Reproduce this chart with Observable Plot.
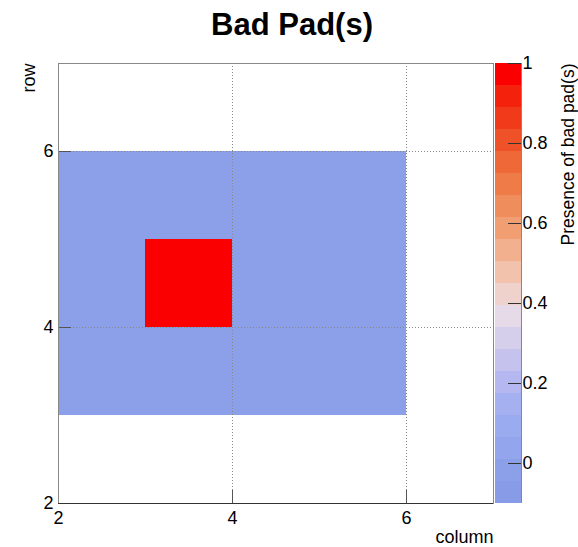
<!DOCTYPE html>
<html>
<head>
<meta charset="utf-8">
<script src="https://cdn.jsdelivr.net/npm/d3@7"></script>
<script src="https://cdn.jsdelivr.net/npm/@observablehq/plot@0.6"></script>
<style>
  html, body { margin: 0; padding: 0; background: #fff; }
  #chart { position: relative; width: 578px; height: 547px; font-family: "Liberation Sans", Arial, Helvetica, sans-serif; }
  #title { height: 50px; line-height: 50px; text-align: center; font-size: 31px; font-weight: bold; color: #000; padding-left: 6px; }
  #main { position: absolute; left: 0; top: 50px; }
  #bar { position: absolute; left: 495px; top: 50px; }
</style>
</head>
<body>
<div id="chart">
  <div id="title">Bad Pad(s)</div>
  <div id="main"></div>
  <div id="bar"></div>
</div>
<script>
// Pad map: lower-left corner (column, row) of each pad and its flag value
const padColumn = [2, 3, 4, 5, 2, 3, 4, 5, 2, 3, 4, 5];
const padRow    = [3, 3, 3, 3, 4, 4, 4, 4, 5, 5, 5, 5];
const padValue  = [0, 0, 0, 0, 0, 1, 0, 0, 0, 0, 0, 0];

// Axes
const xTicks = [2, 4, 6];
const yTicks = [2, 4, 6];
const gridTicks = [4, 6];
const axisDomain = [2, 7];

// Colour palette (20 bands from zMin to zMax)
const zMin = -0.1;
const zMax = 1.0;
const zTicks = [0, 0.2, 0.4, 0.6, 0.8, 1];
const palette = [
  "#879be6", "#8ca0e9", "#93a5ed", "#9babef", "#a5b0f0",
  "#b5b8f0", "#c5c2ee", "#d6cfec", "#e6d9e8", "#efd2cc",
  "#f2c2ac", "#f3b08f", "#f29e73", "#f08d5d", "#ef7b49",
  "#ee6838", "#ef5128", "#f13a1a", "#f4220d", "#fa0000"
];

const nBands = palette.length;
const step = (zMax - zMin) / nBands;
const thresholds = d3.range(1, nBands).map(i => zMin + i * step);
const bands = d3.range(nBands).map(i => ({lo: zMin + i * step, hi: zMin + (i + 1) * step}));
const colorScale = {type: "threshold", domain: thresholds, range: palette};

const pads = padValue.map((v, i) => ({col: padColumn[i], row: padRow[i], value: v}));

const font = "Liberation Sans, Arial, Helvetica, sans-serif";
const fs = 18;
const W = 578, H = 497;
const mL = 58, mR = 85, mT = 13, mB = 44;
const innerW = W - mL - mR, innerH = H - mT - mB;

const main = Plot.plot({
  width: W, height: H,
  marginLeft: mL, marginRight: mR, marginTop: mT, marginBottom: mB,
  style: {fontFamily: font, fontSize: fs + "px", color: "#000", background: "transparent"},
  x: {domain: axisDomain},
  y: {domain: axisDomain},
  color: colorScale,
  marks: [
    Plot.rect(pads, {x1: "col", x2: d => d.col + 1, y1: "row", y2: d => d.row + 1, fill: "value"}),
    Plot.gridX(gridTicks, {stroke: "#888", strokeOpacity: 1, strokeDasharray: "1,2"}),
    Plot.gridY(gridTicks, {stroke: "#888", strokeOpacity: 1, strokeDasharray: "1,2"}),
    Plot.tickX(xTicks, {x: d => d, insetTop: innerH - 13, stroke: "#555"}),
    Plot.tickY(yTicks, {y: d => d, insetRight: innerW - 13, stroke: "#555"}),
    Plot.frame({stroke: "#888"}),
    Plot.ruleY([axisDomain[0]], {stroke: "#333"}),
    Plot.axisX({ticks: xTicks, tickSize: 0, tickPadding: 8, tickFormat: d => String(d), label: null, fontSize: fs}),
    Plot.axisY({ticks: yTicks, tickSize: 0, tickPadding: 5, tickFormat: d => String(d), label: null, fontSize: fs}),
    Plot.text(["column"], {frameAnchor: "bottom-right", textAnchor: "end", dy: 39, fontSize: fs, fill: "#000"}),
    Plot.text(["row"], {frameAnchor: "top-left", textAnchor: "end", rotate: -90, dx: -36, fontSize: fs, fill: "#000"})
  ]
});
document.getElementById("main").appendChild(main);

const bar = Plot.plot({
  width: 83, height: H,
  marginLeft: 0, marginRight: 57, marginTop: mT, marginBottom: mB,
  style: {fontFamily: font, fontSize: fs + "px", color: "#000", background: "transparent", overflow: "visible"},
  x: {domain: [0, 1], axis: null},
  y: {domain: [zMin, zMax]},
  color: colorScale,
  marks: [
    Plot.rect(bands, {x1: 0, x2: 1, y1: "lo", y2: "hi", fill: d => (d.lo + d.hi) / 2}),
    Plot.ruleX([1], {stroke: "#888"}),
    Plot.tickY(zTicks, {y: d => d, insetLeft: 13, stroke: "#333"}),
    Plot.axisY({anchor: "right", ticks: zTicks, tickSize: 0, tickPadding: 1, tickFormat: d => String(d), label: null, fontSize: fs}),
    Plot.text(["Presence of bad pad(s)"], {frameAnchor: "top-right", textAnchor: "end", rotate: -90, dx: 40, fontSize: 17.5, fill: "#000"})
  ]
});
document.getElementById("bar").appendChild(bar);
</script>
</body>
</html>
